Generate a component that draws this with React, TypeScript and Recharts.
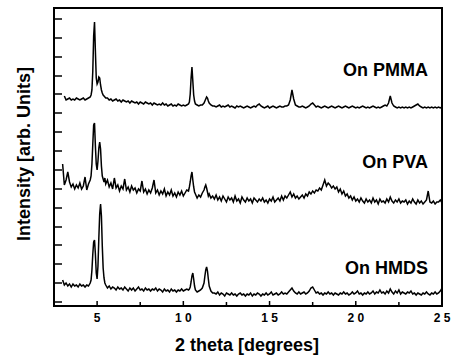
import React from 'react';
import { LineChart, Line, XAxis, YAxis } from 'recharts';

// 2 theta grid (degrees), denser around the sharp reflections
const angle = [
  3.0, 3.1, 3.2, 3.3, 3.4, 3.5, 3.6, 3.7, 3.8, 3.9, 4.0, 4.1, 4.2, 4.3, 4.4, 4.5, 4.6,
  4.65, 4.7, 4.75, 4.8, 4.85, 4.9, 4.95, 5.0, 5.05, 5.1, 5.15, 5.2, 5.25, 5.3, 5.35, 5.4, 5.45, 5.5,
  5.6, 5.7, 5.8, 5.9, 6.0, 6.1, 6.2, 6.3, 6.4, 6.5,
  6.6, 6.7, 6.8, 6.9, 7.0, 7.1, 7.2, 7.3, 7.4, 7.5,
  7.6, 7.7, 7.8, 7.9, 8.0, 8.1, 8.2, 8.3, 8.4, 8.5,
  8.6, 8.7, 8.8, 8.9, 9.0, 9.1, 9.2, 9.3, 9.4, 9.5,
  9.6, 9.7, 9.8, 9.9, 10.0, 10.1, 10.2,
  10.3, 10.35, 10.4, 10.45, 10.5, 10.55, 10.6, 10.65, 10.7, 10.8, 10.9,
  11.0, 11.1, 11.2, 11.25, 11.3, 11.35, 11.4, 11.45, 11.5, 11.6, 11.7,
  11.8, 11.9, 12.0, 12.1, 12.2, 12.3, 12.4, 12.5, 12.6, 12.7,
  12.8, 12.9, 13.0, 13.1, 13.2, 13.3, 13.4, 13.5, 13.6, 13.7,
  13.8, 13.9, 14.0, 14.1, 14.2, 14.3, 14.4, 14.5, 14.6, 14.7,
  14.8, 14.9, 15.0, 15.1, 15.2, 15.3, 15.4, 15.5, 15.6, 15.7,
  15.8, 15.9, 16.0, 16.1, 16.2, 16.3, 16.4, 16.5, 16.6, 16.7,
  16.8, 16.9, 17.0, 17.1, 17.2, 17.3, 17.4, 17.5, 17.6, 17.7,
  17.8, 17.9, 18.0, 18.1, 18.2, 18.3, 18.4, 18.5, 18.6, 18.7,
  18.8, 18.9, 19.0, 19.1, 19.2, 19.3, 19.4, 19.5, 19.6, 19.7,
  19.8, 19.9, 20.0, 20.1, 20.2, 20.3, 20.4, 20.5, 20.6, 20.7,
  20.8, 20.9, 21.0, 21.1, 21.2, 21.3, 21.4, 21.5, 21.6, 21.7,
  21.8, 21.9, 22.0, 22.1, 22.2, 22.3, 22.4, 22.5, 22.6, 22.7,
  22.8, 22.9, 23.0, 23.1, 23.2, 23.3, 23.4, 23.5, 23.6, 23.7,
  23.8, 23.9, 24.0, 24.1, 24.2, 24.3, 24.4, 24.5, 24.6, 24.7,
  24.8, 24.9, 25.0,
];

// intensities (arb. units, traces already offset)
const pmma = [
  null, 210, 206, 207, 208, 206, 207, 206, 208, 207, 206, 207, 208, 206, 207, 208, 209,
  211, 216, 235, 270, 284, 255, 228, 222, 224, 229, 228, 221, 216, 213, 211, 210, 209, 208,
  208, 206, 207, 205, 206, 207, 205, 206, 204, 206,
  205, 204, 205, 203, 205, 204, 203, 204, 202, 204,
  203, 202, 204, 203, 202, 203, 201, 203, 202, 201,
  202, 201, 203, 201, 202, 200, 201, 202, 200, 201,
  200, 202, 201, 200, 201, 200, 201,
  202, 204, 212, 228, 239, 225, 211, 205, 202, 201, 200,
  201, 201, 203, 205, 207, 209, 208, 205, 203, 201, 200,
  200, 199, 200, 201, 199, 200, 199, 200, 201, 199,
  200, 199, 198, 200, 199, 200, 199, 198, 199, 200,
  199, 198, 199, 200, 199, 201, 202, 200, 199, 198,
  199, 200, 198, 199, 200, 199, 198, 199, 200, 199,
  199, 200, 200, 201, 206, 216, 207, 201, 200, 199,
  199, 200, 199, 198, 199, 200, 202, 203, 201, 199,
  200, 199, 198, 199, 200, 199, 198, 199, 200, 199,
  198, 199, 200, 199, 198, 199, 200, 199, 198, 199,
  200, 199, 198, 199, 198, 199, 200, 199, 198, 199,
  198, 199, 200, 199, 198, 199, 198, 199, 200, 201,
  200, 203, 210, 203, 200, 199, 198, 199, 198, 199,
  198, 199, 198, 199, 198, 199, 200, 201, 202, 200,
  199, 198, 199, 198, 199, 198, 199, 198, 199, 198,
  199, 198, 199,
];

const pva = [
  142, 121, 126, 134, 124, 119, 122, 117, 121, 118, 123, 117, 120, 129, 116, 122, 126,
  130, 142, 162, 181, 183, 160, 142, 136, 145, 158, 164, 157, 140, 130, 127, 124, 128, 122,
  126, 119, 123, 117, 128, 118, 121, 115, 120, 117,
  127, 116, 119, 114, 120, 116, 118, 113, 117, 115,
  125, 114, 117, 112, 116, 113, 118, 126, 113, 116,
  111, 115, 112, 117, 110, 114, 111, 116, 110, 113,
  109, 114, 111, 115, 110, 113, 116,
  115, 119, 124, 130, 134, 126, 119, 114, 112, 108, 111,
  109, 113, 116, 119, 121, 118, 114, 110, 112, 108, 110,
  107, 111, 106, 109, 105, 110, 107, 104, 109, 106,
  108, 104, 110, 105, 107, 103, 109, 106, 104, 108,
  105, 107, 103, 108, 106, 104, 107, 105, 108, 104,
  106, 103, 107, 105, 109, 104, 106, 108, 105, 110,
  106, 110, 108, 111, 114, 109, 112, 108, 110, 107,
  109, 111, 108, 112, 110, 114, 112, 115, 113, 116,
  115, 118, 116, 121, 126, 120, 123, 121, 118, 120,
  117, 119, 114, 117, 112, 115, 110, 112, 108, 110,
  106, 109, 105, 107, 104, 108, 105, 103, 107, 104,
  106, 103, 108, 104, 106, 102, 107, 104, 105, 103,
  107, 104, 109, 105, 103, 106, 104, 107, 103, 105,
  104, 106, 102, 105, 103, 107, 104, 102, 106, 103,
  105, 102, 104, 106, 115, 104, 103, 105, 102, 104,
  104, 106, 103,
];

const hmds = [
  26, 21, 23, 20, 22, 19, 22, 20, 21, 19, 22, 20, 21, 19, 21, 20, 23,
  26, 36, 52, 64, 66, 52, 33, 27, 40, 68, 92, 102, 90, 60, 38, 28, 23, 21,
  18, 20, 17, 19, 18, 16, 19, 17, 18, 16,
  19, 17, 15, 18, 16, 18, 15, 17, 19, 16,
  17, 15, 18, 16, 17, 15, 17, 16, 18, 15,
  17, 16, 14, 17, 15, 16, 14, 17, 15, 16,
  14, 16, 15, 17, 15, 16, 17,
  16, 17, 19, 24, 30, 33, 27, 20, 16, 14, 15,
  16, 18, 23, 30, 36, 39, 35, 27, 20, 15, 13,
  13, 12, 14, 11, 13, 12, 10, 13, 12, 11,
  13, 11, 12, 10, 12, 13, 11, 12, 10, 12,
  11, 13, 10, 12, 11, 13, 12, 10, 12, 11,
  13, 11, 12, 14, 11, 12, 13, 11, 12, 14,
  12, 13, 12, 14, 16, 18, 15, 13, 12, 14,
  12, 13, 14, 12, 13, 15, 18, 19, 16, 13,
  14, 12, 13, 11, 13, 12, 14, 12, 13, 11,
  13, 12, 11, 13, 12, 14, 12, 13, 11, 12,
  14, 12, 13, 15, 12, 13, 11, 13, 12, 14,
  12, 13, 15, 12, 14, 13, 16, 13, 14, 12,
  15, 13, 17, 14, 12, 15, 13, 16, 12, 14,
  13, 12, 14, 13, 15, 12, 13, 11, 13, 12,
  11, 13, 12, 14, 12, 11, 13, 12, 14, 12,
  13, 15, 18,
];

const xDomain = [2.5, 25];
const yDomain = [0, 298];
const xTicks = [5, 7.5, 10, 12.5, 15, 17.5, 20, 22.5, 25];
const yTicks = [4, 23, 42, 61, 79, 98, 117, 136, 155, 174, 193, 212, 230, 249, 268, 287];

const traceLabels = [
  { name: 'On PMMA', top: 61 },
  { name: 'On PVA', top: 153 },
  { name: 'On HMDS', top: 259 },
];

const rows = angle.map((a, i) => ({ angle: a, pmma: pmma[i], pva: pva[i], hmds: hmds[i] }));

const font = '"Liberation Sans", Arial, Helvetica, sans-serif';

// inward tick mark + spaced-digit label under the axis
const XTick = (props: any) => {
  const { x, y, payload } = props;
  const v = payload.value as number;
  const major = v % 5 === 0;
  return (
    <g>
      <path d={`M${x},${y - 1}V${y - (major ? 5 : 4)}`} stroke="#000" strokeWidth={1.5} fill="none" />
      {major && (
        <text x={x} y={y + 16} textAnchor="middle" fill="#000" fontSize={12} fontWeight="bold" fontFamily={font}>
          {String(v).split('').join(' ')}
        </text>
      )}
    </g>
  );
};

// inward tick mark only, no label
const YTick = (props: any) => {
  const { x, y } = props;
  return <line x1={x} y1={y} x2={x + 8} y2={y} stroke="#000" strokeWidth={1.5} />;
};

export default function App() {
  return (
    <div style={{ position: 'absolute', left: 0, top: 0, width: 452, height: 356, background: '#fff', fontFamily: font }}>
      <LineChart width={452} height={356} data={rows} margin={{ top: 8, right: 10, bottom: 0, left: 0 }}>
        <XAxis
          dataKey="angle"
          type="number"
          domain={xDomain}
          ticks={xTicks}
          interval={0}
          height={50}
          axisLine={{ stroke: '#000', strokeWidth: 2 }}
          tickLine={false}
          tickSize={0}
          tickMargin={0}
          tick={<XTick />}
        />
        <YAxis
          type="number"
          domain={yDomain}
          ticks={yTicks}
          interval={0}
          width={54}
          axisLine={{ stroke: '#000', strokeWidth: 2 }}
          tickLine={false}
          tickSize={0}
          tickMargin={0}
          tick={<YTick />}
        />
        <Line dataKey="pmma" type="linear" stroke="#000" strokeWidth={1.5} dot={false} isAnimationActive={false} />
        <Line dataKey="pva" type="linear" stroke="#000" strokeWidth={1.5} dot={false} isAnimationActive={false} />
        <Line dataKey="hmds" type="linear" stroke="#000" strokeWidth={1.5} dot={false} isAnimationActive={false} />
      </LineChart>

      {/* plot frame */}
      <div style={{ position: 'absolute', left: 53, top: 7, width: 390, height: 300, border: '2px solid #000', boxSizing: 'border-box', pointerEvents: 'none' }} />

      {traceLabels.map((t) => (
        <div key={t.name} style={{ position: 'absolute', right: 24, top: t.top, fontSize: 18, lineHeight: '18px', fontWeight: 'bold', whiteSpace: 'nowrap' }}>
          {t.name}
        </div>
      ))}
      <div style={{ position: 'absolute', left: 0, width: 494, top: 336, textAlign: 'center', fontSize: 18, lineHeight: '18px', fontWeight: 'bold' }}>
        2 theta [degrees]
      </div>
      <div style={{ position: 'absolute', left: 24, top: 154, width: 0, height: 0 }}>
        <div style={{ position: 'absolute', left: -120, top: -9, width: 240, textAlign: 'center', fontSize: 18, lineHeight: '18px', fontWeight: 'bold', transform: 'rotate(-90deg)', whiteSpace: 'nowrap' }}>
          Intensity [arb. Units]
        </div>
      </div>
    </div>
  );
}
